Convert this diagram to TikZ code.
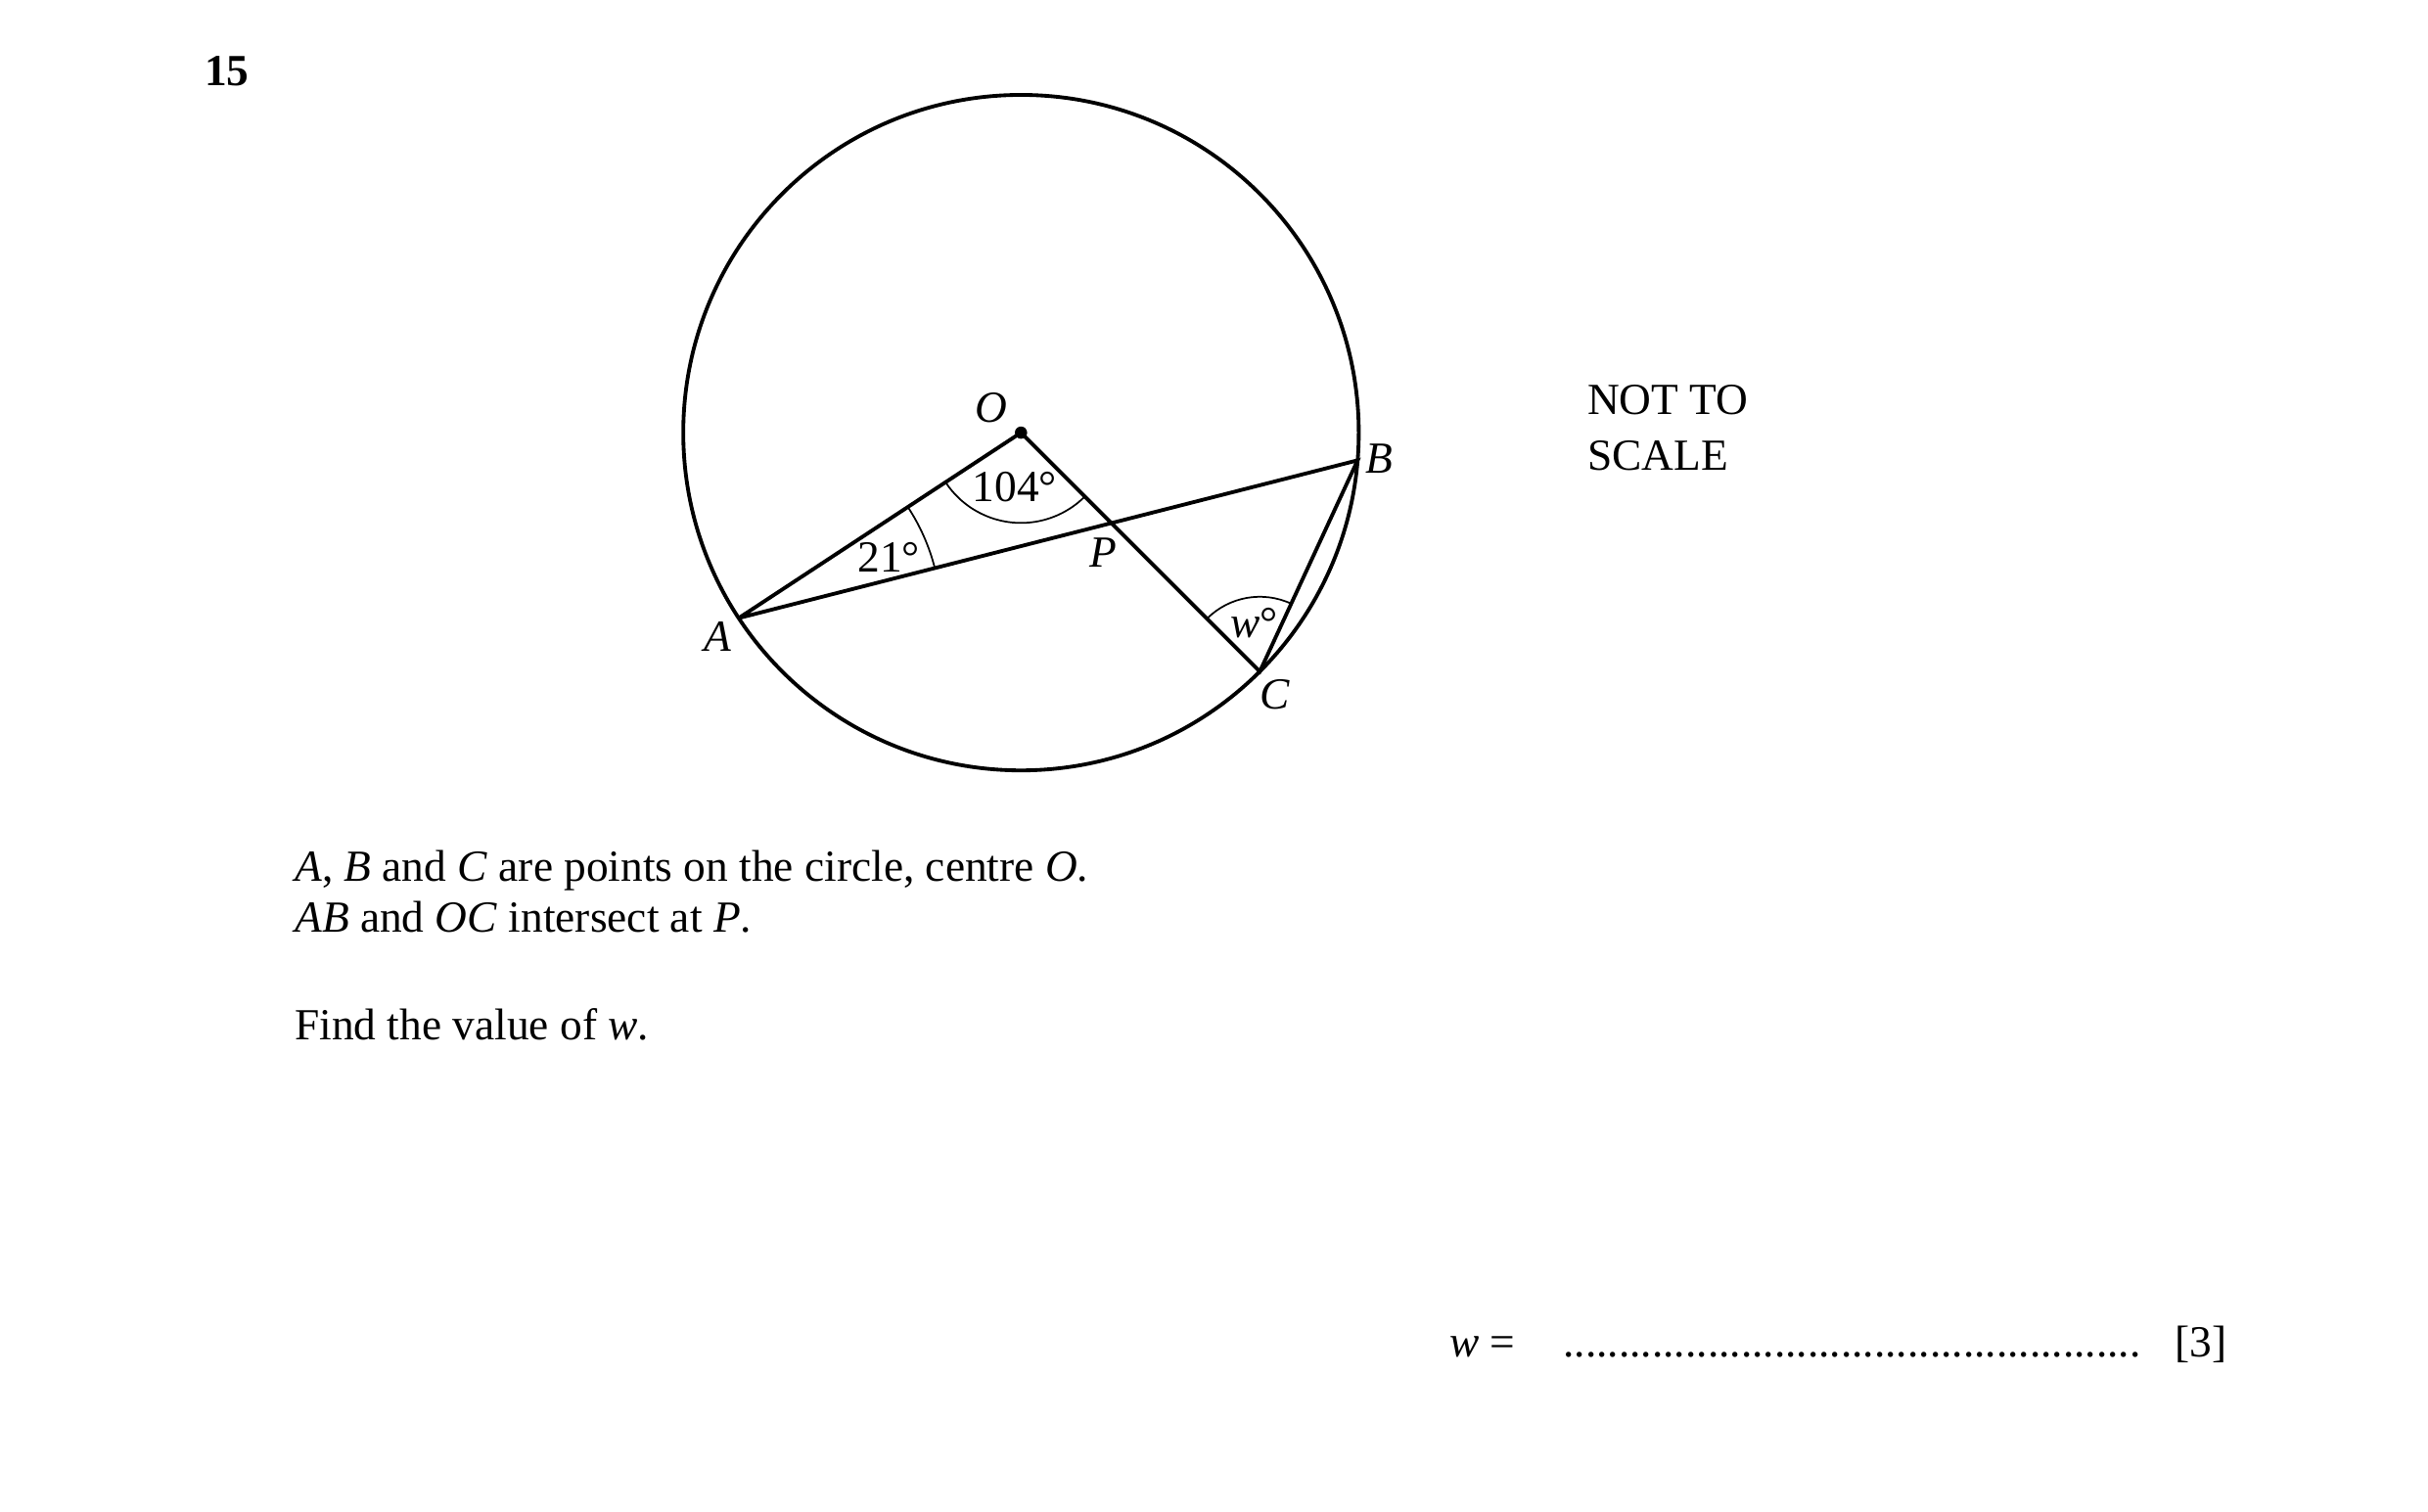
\documentclass[tikz,border=0pt]{standalone}
\usepackage{fontspec}
\setmainfont{Liberation Serif}
\usetikzlibrary{calc,intersections}
\begin{document}
\begin{tikzpicture}[x=0.016cm,y=0.016cm,
	every node/.style={inner sep=0pt,font=\fontsize{13}{15}\selectfont},
	ptlabel/.style={font=\fontsize{13}{15}\selectfont\itshape},
	bodytext/.style={anchor=base west},
	edge/.style={line width=1.1pt},
	anglemark/.style={line width=0.5pt}]
			\useasboundingbox (0,0) rectangle (1560,971);
			\coordinate (O) at (656,693);
			\coordinate (A) at ($(O)+(213.3:217)$);
			\coordinate (B) at ($(O)+(-4.7:217)$);
			\coordinate (C) at ($(O)+(-45:217)$);
			\path[name path=chordAB] (A) -- (B);
			\path[name path=radiusOC] (O) -- (C);
			\path[name intersections={of=chordAB and radiusOC, by=P}];
			\draw[edge] (O) circle (217);
			\draw[edge] (A) -- (O) -- (C) -- (B) -- (A);
			\draw[anglemark] ($(O)+(213.3:58)$) arc[start angle=213.3, end angle=315, radius=58];
			\draw[anglemark] ($(A)+(14.3:130)$) arc[start angle=14.3, end angle=33.3, radius=130];
			\draw[anglemark] ($(C)+(65.1:48)$) arc[start angle=65.1, end angle=135, radius=48];
			\fill (O) circle (1.8pt);
			\node[ptlabel] (labO) at (637,709) {O};
			\node[ptlabel] (labA) at (461,562) {A};
			\node[ptlabel] (labB) at (886,676) {B};
			\node[ptlabel] (labC) at (819,525) {C};
			\node[ptlabel] (labP) at (709,616) {P};
			\node (ang104) at (652,658) {104°};
			\node (ang21) at (571,613) {21°};
			\node (angw) at (806,571) {\textit{w}°};
			\node[bodytext,font=\fontsize{13}{15}\selectfont\bfseries] (qnum) at (131,915.7) {15};
			\node[bodytext] (scale1) at (1019.5,705) {NOT TO};
			\node[bodytext] (scale2) at (1019.5,669) {SCALE};
			\node[bodytext] (line1) at (189,405) {\textit{A}, \textit{B} and \textit{C} are points on the circle, centre \textit{O}.};
			\node[bodytext] (line2) at (189,372) {\textit{AB} and \textit{OC} intersect at \textit{P}.};
			\node[bodytext] (line3) at (189,303) {Find the value of \textit{w}.};
			\node[bodytext] (weq) at (931,99) {\textit{w} =};
			\node[bodytext] (answer) at (1004,99) {....................................................};
			\node[bodytext] (marks) at (1397,99) {[3]};
		\end{tikzpicture}
\end{document}
